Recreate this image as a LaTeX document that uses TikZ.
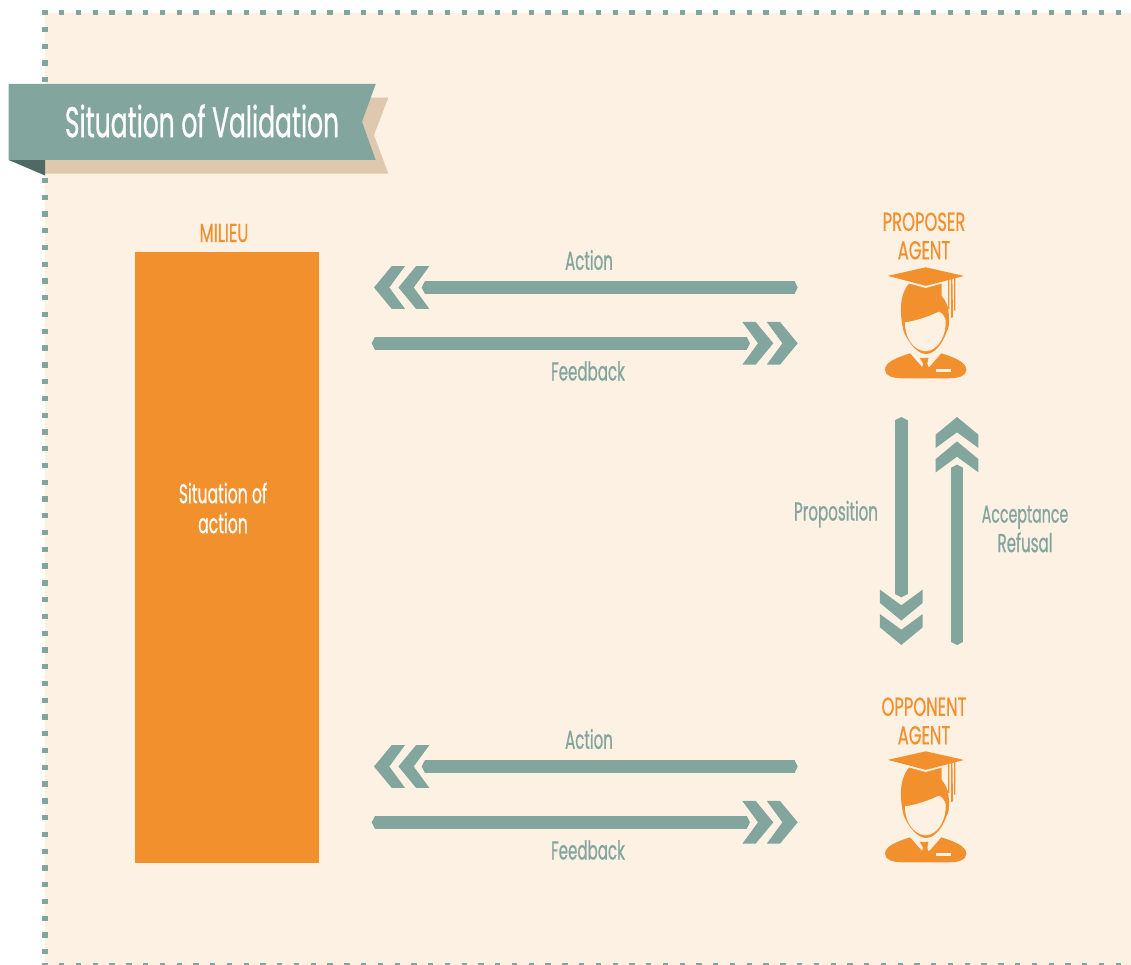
\documentclass[tikz,border=0pt]{standalone}
\usepackage{fontspec}
\usetikzlibrary{arrows.meta}
\setmainfont[FakeStretch=0.58,FakeBold=0.6]{Poppins}
\newfontfamily\capsfont[FakeStretch=0.63,FakeBold=0.6]{Poppins}
\definecolor{cream}{HTML}{FDF1E4}
\definecolor{teal}{HTML}{82A59E}
\definecolor{tealdark}{HTML}{4F6A64}
\definecolor{beige}{HTML}{DFC9AE}
\definecolor{orng}{HTML}{F2902E}
\pgfdeclarearrow{
  name=TwoChevrons,
  setup code={
    \pgfarrowssettipend{0pt}
    \pgfarrowssetlineend{-50.9pt}
    \pgfarrowssetbackend{-50.9pt}
    \pgfarrowssetvisualtipend{0pt}
  },
  drawing code={
    \pgfsetfillcolor{teal}
    \foreach \d in {0,-24.4}{
      \pgfpathmoveto{\pgfpoint{\d pt}{0pt}}
      \pgfpathlineto{\pgfpoint{\d pt-17.7pt}{21.4pt}}
      \pgfpathlineto{\pgfpoint{\d pt-31pt}{21.4pt}}
      \pgfpathlineto{\pgfpoint{\d pt-15.3pt}{0pt}}
      \pgfpathlineto{\pgfpoint{\d pt-31pt}{-21.4pt}}
      \pgfpathlineto{\pgfpoint{\d pt-17.7pt}{-21.4pt}}
      \pgfpathclose
      \pgfusepathqfill
    }
    \pgfpathmoveto{\pgfpoint{-47.7pt}{0pt}}
    \pgfpathlineto{\pgfpoint{-50.9pt}{6.3pt}}
    \pgfpathlineto{\pgfpoint{-50.9pt}{-6.3pt}}
    \pgfpathclose
    \pgfusepathqfill
  }
}
\pgfdeclarearrow{
  name=PointEnd,
  setup code={
    \pgfarrowssettipend{0pt}
    \pgfarrowssetlineend{-3.2pt}
    \pgfarrowssetbackend{-3.2pt}
    \pgfarrowssetvisualtipend{0pt}
  },
  drawing code={
    \pgfsetfillcolor{teal}
    \pgfpathmoveto{\pgfpoint{0pt}{0pt}}
    \pgfpathlineto{\pgfpoint{-3.2pt}{6.3pt}}
    \pgfpathlineto{\pgfpoint{-3.2pt}{-6.3pt}}
    \pgfpathclose
    \pgfusepathqfill
  }
}
\tikzset{
  flow/.style={draw=teal,line width=12.6pt,{PointEnd}-{TwoChevrons}},
  dots/.style={draw=teal,line width=5.3pt,dash pattern=on 5.3pt off 11.47pt},
  flowlabel/.style={text=teal,font=\fontsize{26}{29.5}\selectfont,align=center,inner sep=0pt},
  agentlabel/.style={text=orng,font=\capsfont\fontsize{26}{28.5}\selectfont,align=center,inner sep=0pt},
  agenticon/.pic={
    % coordinates measured on a 3x crop, origin at the centre of the cap
    \begin{scope}[x=0.3333pt,y=-0.3333pt]
      % body
      \fill[orng] (-122,308) .. controls (-122,285) and (-90,272) .. (-47,258)
        -- (-12,298) -- (12,298) -- (47,258) .. controls (90,272) and (122,285) .. (122,308)
        .. controls (122,325) and (100,333) .. (70,333) -- (-70,333)
        .. controls (-100,333) and (-122,325) .. (-122,308) -- cycle;
      \fill[orng] (-18,272) -- (8,272) -- (5,288) -- (9,312) -- (-5,318) -- (-12,312) -- (-8,288) -- cycle;
      \fill[cream] (31,305) rectangle (75,314);
      % hair and face outline
      \fill[orng] (-47,45) .. controls (-75,75) and (-82,125) .. (-66,193)
        .. controls (-48,235) and (-20,260) .. (0,260)
        .. controls (25,260) and (48,235) .. (63,193)
        .. controls (72,180) and (72,150) .. (66,118)
        .. controls (60,100) and (50,90) .. (48,85) -- (48,45) -- (0,55) -- cycle;
      \fill[cream] (-62,165) .. controls (-20,160) and (25,140) .. (40,133)
        .. controls (50,137) and (58,150) .. (60,160)
        .. controls (62,200) and (40,250) .. (0,252)
        .. controls (-40,250) and (-64,205) .. (-62,165) -- cycle;
      % cap
      \fill[orng] (-115,26) -- (0,0) -- (115,26) -- (0,56) -- cycle;
      \fill[cream] (-115,31) -- (0,62) -- (50,48) -- (50,44) -- (0,56) -- (-115,26) -- cycle;
      % tassel
      \fill[orng] (67,34) -- (71,33) -- (71,125) -- (67,125) -- cycle;
      \fill[orng] (76,31) -- (80,30) -- (82,150) -- (76,152) -- cycle;
      \fill[orng] (85,29) -- (89,28) -- (89,130) -- (85,130) -- cycle;
    \end{scope}
  }
}
\begin{document}
\begin{tikzpicture}[x=1pt,y=-1pt]
\useasboundingbox (0,0) rectangle (1131,965);
\fill[cream] (45,13) rectangle (1131,965);
\draw[dots] (42.35,12.7) -- (1131,12.7);
\draw[dots] (45,10.05) -- (45,965);
\draw[dots] (42.35,965.5) -- (1131,965.5);
% banner
\fill[beige] (45,120) -- (300,97.7) -- (388.3,97.7) -- (374,135) -- (388.3,173.7) -- (45,173.7) -- cycle;
\fill[tealdark] (8.7,160) -- (45,160) -- (45,175.5) -- cycle;
\fill[teal] (8.7,84) -- (375.7,84) -- (362,121.7) -- (375.7,160) -- (8.7,160) -- cycle;
\node[text=white,font=\fontsize{43}{43}\selectfont,inner sep=0pt] (title) at (202,121) {Situation of Validation};
% milieu
\node[fill=orng,minimum width=184pt,minimum height=611pt,inner sep=0pt] (milieu) at (227,557.5) {};
\node[text=white,font=\fontsize{27}{30}\selectfont,align=center,inner sep=0pt] (sit) at (223,508) {Situation of\\action};
\node[agentlabel] (mlabel) at (224,233) {MILIEU};
% agents
\node[agentlabel] (prop) at (924,236) {PROPOSER\\AGENT};
\node[agentlabel] (opp) at (924,721) {OPPONENT\\AGENT};
\pic (proposericon) at (925.7,267.3) {agenticon};
\pic (opponenticon) at (925.7,751.3) {agenticon};
% connector ends
\coordinate (a1r) at (797.7,287.5); \coordinate (a1l) at (374,287.5);
\coordinate (f1l) at (371.7,343.3); \coordinate (f1r) at (797.7,343.3);
\coordinate (a2r) at (797.7,766.5); \coordinate (a2l) at (374,766.5);
\coordinate (f2l) at (371.7,822.3); \coordinate (f2r) at (797.7,822.3);
\coordinate (pt) at (901.3,417); \coordinate (pb) at (901.3,645);
\coordinate (rb) at (957,645); \coordinate (rt) at (957,417);
\draw[flow] (a1r) -- (a1l);
\draw[flow] (f1l) -- (f1r);
\draw[flow] (a2r) -- (a2l);
\draw[flow] (f2l) -- (f2r);
\draw[flow] (pt) -- (pb);
\draw[flow] (rb) -- (rt);
% labels
\node[flowlabel] (l1) at (589,260) {Action};
\node[flowlabel] (l2) at (588,371) {Feedback};
\node[flowlabel] (l3) at (589,739) {Action};
\node[flowlabel] (l4) at (588,850) {Feedback};
\node[flowlabel] (l5) at (836,514) {Proposition};
\node[flowlabel] (l6) at (1025,529) {{\fontsize{24.5}{29.5}\selectfont Acceptance}\\Refusal};
\end{tikzpicture}
\end{document}
